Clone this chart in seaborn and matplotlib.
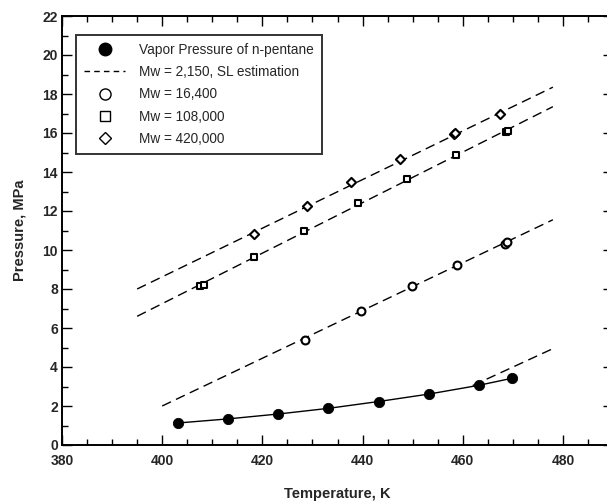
import matplotlib
matplotlib.use("Agg")
import matplotlib.pyplot as plt
import pandas as pd
import seaborn as sns
from matplotlib.lines import Line2D
from matplotlib.ticker import MultipleLocator

# n-pentane vapor pressure curve
vp_T = [403.2, 413.2, 423.2, 433.2, 443.2, 453.2, 463.2, 469.8]
vp_P = [1.13, 1.34, 1.59, 1.88, 2.23, 2.61, 3.06, 3.42]

# cloud-point pressures for the three polymer grades
mw16_T = [428.6, 439.6, 449.8, 458.9, 468.4, 468.9]
mw16_P = [5.38, 6.87, 8.17, 9.21, 10.33, 10.42]

mw108_T = [407.6, 408.3, 418.4, 428.4, 439.1, 448.8, 458.6, 468.7, 469.1]
mw108_P = [8.15, 8.22, 9.62, 10.99, 12.43, 13.62, 14.86, 16.05, 16.10]

mw420_T = [418.3, 428.9, 437.6, 447.5, 458.2, 458.5, 467.4]
mw420_P = [10.83, 12.25, 13.50, 14.67, 15.93, 16.00, 16.97]

# Sanchez-Lacombe estimated boundaries (end points of each line)
sl_T = [[462.0, 478.5], [400.0, 478.0], [395.0, 478.0], [395.0, 478.0]]
sl_P = [[3.05, 5.00], [2.00, 11.55], [6.60, 17.35], [8.00, 18.35]]

legend_labels = ["Vapor Pressure of n-pentane", "Mw = 2,150, SL estimation",
                 "Mw = 16,400", "Mw = 108,000", "Mw = 420,000"]

sns.set_style("ticks")
plt.rcParams["font.family"] = ["Liberation Sans", "DejaVu Sans"]

fig = plt.figure(figsize=(6.07, 5.03), dpi=100)
ax = fig.add_axes([62 / 607, 58 / 503, 551 / 607, 429 / 503])

# estimation lines
for t, p in zip(sl_T, sl_P):
    d = pd.DataFrame({"T": t, "P": p})
    sns.lineplot(data=d, x="T", y="P", ax=ax, color="black", lw=1.0,
                 linestyle=(0, (7, 4)), zorder=2)

# vapor pressure
vp = pd.DataFrame({"T": vp_T, "P": vp_P})
sns.lineplot(data=vp, x="T", y="P", ax=ax, color="black", lw=1.0, zorder=3)
sns.scatterplot(data=vp, x="T", y="P", ax=ax, color="black", s=55,
                marker="o", edgecolor="black", zorder=4)

# polymer data
for t, p, m, sz in [(mw16_T, mw16_P, "o", 32), (mw108_T, mw108_P, "s", 24),
                    (mw420_T, mw420_P, "D", 22)]:
    d = pd.DataFrame({"T": t, "P": p})
    sns.scatterplot(data=d, x="T", y="P", ax=ax, marker=m, s=sz,
                    facecolor="white", edgecolor="black", linewidth=1.5,
                    zorder=5)

ax.set_xlim(380, 490)
ax.set_ylim(0, 22)
ax.xaxis.set_major_locator(MultipleLocator(20))
ax.xaxis.set_minor_locator(MultipleLocator(5))
ax.yaxis.set_major_locator(MultipleLocator(2))
ax.yaxis.set_minor_locator(MultipleLocator(1))
ax.tick_params(which="both", direction="in", top=True, right=True,
               color="black", width=1.0)
ax.tick_params(which="major", length=7)
ax.tick_params(which="minor", length=4)
ax.tick_params(axis="x", which="major", pad=6.5)
ax.tick_params(axis="y", which="major", pad=3)
for lab in ax.get_xticklabels() + ax.get_yticklabels():
    lab.set_fontweight("bold")
    lab.set_fontsize(10)
for s in ax.spines.values():
    s.set_linewidth(1.4)
    s.set_color("black")

ax.set_xlabel("Temperature, K", fontsize=10.5, fontweight="bold")
ax.set_ylabel("Pressure, MPa", fontsize=10.5, fontweight="bold")
ax.xaxis.set_label_coords(0.5, -0.098)
ax.yaxis.set_label_coords(-0.064, 0.5)

handles = [
    Line2D([], [], ls="none", marker="o", ms=9, color="black"),
    Line2D([], [], ls=(0, (4, 3)), lw=1.0, color="black"),
    Line2D([], [], ls="none", marker="o", ms=8, mfc="white", mec="black", mew=1.0),
    Line2D([], [], ls="none", marker="s", ms=7, mfc="white", mec="black", mew=1.0),
    Line2D([], [], ls="none", marker="D", ms=6.5, mfc="white", mec="black", mew=1.0),
]
leg = ax.legend(handles, legend_labels, loc="upper left",
                bbox_to_anchor=(0.0254, 0.956), borderaxespad=0,
                frameon=True, fancybox=False, fontsize=9.8,
                handlelength=3.0, handletextpad=1.0, labelspacing=0.6,
                borderpad=0.6)
leg.get_frame().set_edgecolor("black")
leg.get_frame().set_linewidth(1.4)

fig.savefig("out.png", dpi=100)
